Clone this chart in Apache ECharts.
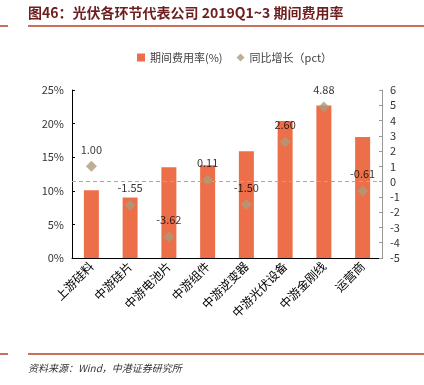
<!DOCTYPE html>
<html><head><meta charset="utf-8">
<script src="https://cdn.jsdelivr.net/npm/echarts@6/dist/echarts.min.js"></script>
<style>html,body{margin:0;padding:0;background:#fff}#c{width:424px;height:385px}</style>
</head><body><div id="c"></div>
<script>
const categories = ['上游硅料','中游硅片','中游电池片','中游组件','中游逆变器','中游光伏设备','中游金刚线','运营商'];
const expenseRate = [10.1, 9.0, 13.5, 13.8, 15.9, 20.4, 22.7, 18.0];
const yoyChange = [1.00, -1.55, -3.62, 0.11, -1.50, 2.60, 4.88, -0.61];
const leftTicks = [0, 5, 10, 15, 20, 25];
const rightTicks = [-5, 6];

const chart = echarts.init(document.getElementById('c'));
const font = '"Noto Sans CJK SC", "Liberation Sans", sans-serif';
chart.setOption({
  animation: false,
  textStyle: { fontFamily: font },
  graphic: [
    { type: 'text', left: 28, top: 6, style: { text: '图46：光伏各环节代表公司 2019Q1~3 期间费用率', fill: '#6e1e1e', font: 'bold 14px ' + font } },
    { type: 'rect', shape: { x: 28, y: 25, width: 396, height: 2 }, style: { fill: '#c8705a' } },
    { type: 'rect', shape: { x: 0, y: 25, width: 8, height: 2 }, style: { fill: '#c8705a' } },
    { type: 'rect', shape: { x: 28, y: 353, width: 396, height: 2 }, style: { fill: '#c8705a' } },
    { type: 'rect', shape: { x: 0, y: 353, width: 8, height: 2 }, style: { fill: '#c8705a' } },
    { type: 'text', left: 28, top: 363, style: { text: '资料来源：Wind，中港证券研究所', fill: '#333', font: 'italic 10px ' + font } }
  ],
  legend: {
    top: 47, left: 132, itemWidth: 8, itemHeight: 8, itemGap: 14,
    textStyle: { fontSize: 11, color: '#404040', fontFamily: font },
    data: [
      { name: '期间费用率(%)', icon: 'rect' },
      { name: '同比增长（pct）', icon: 'diamond' }
    ]
  },
  grid: { left: 72, right: 42, top: 90, bottom: 127 },
  xAxis: {
    type: 'category', data: categories, boundaryGap: true,
    axisLine: { lineStyle: { color: '#000' } },
    axisTick: { inside: true, length: 3, lineStyle: { color: '#000' } },
    axisLabel: { rotate: 45, fontSize: 12, color: '#000', margin: 6, interval: 0 }
  },
  yAxis: [
    {
      type: 'value', min: leftTicks[0], max: leftTicks[leftTicks.length - 1], interval: 5,
      axisLine: { show: true, lineStyle: { color: '#000' } },
      axisTick: { show: true, inside: true, length: 3, lineStyle: { color: '#000' } },
      splitLine: { show: false },
      axisLabel: { formatter: '{value}%', fontSize: 11, color: '#333', margin: 8 }
    },
    {
      type: 'value', min: rightTicks[0], max: rightTicks[1], interval: 1, position: 'right',
      axisLine: { show: true, lineStyle: { color: '#999' } },
      axisTick: { show: true, inside: true, length: 3, lineStyle: { color: '#999' } },
      splitLine: { show: false },
      axisLabel: { fontSize: 11, color: '#333', margin: 8 }
    }
  ],
  series: [
    {
      name: '期间费用率(%)', type: 'bar', data: expenseRate, barWidth: 15,
      itemStyle: { color: '#ED6F4A' }
    },
    {
      name: '同比增长（pct）', type: 'scatter', yAxisIndex: 1, data: yoyChange,
      symbol: 'diamond', symbolSize: 11, z: 5,
      itemStyle: { color: '#AB9B7C' },
      label: { show: true, position: 'top', distance: 6, fontSize: 11, color: '#000', formatter: p => p.value.toFixed(2) },
      markLine: {
        silent: true, symbol: 'none', label: { show: false },
        lineStyle: { type: [4, 3], color: '#BFA47C', width: 1 },
        data: [{ yAxis: 0 }]
      }
    }
  ]
});
</script></body></html>
